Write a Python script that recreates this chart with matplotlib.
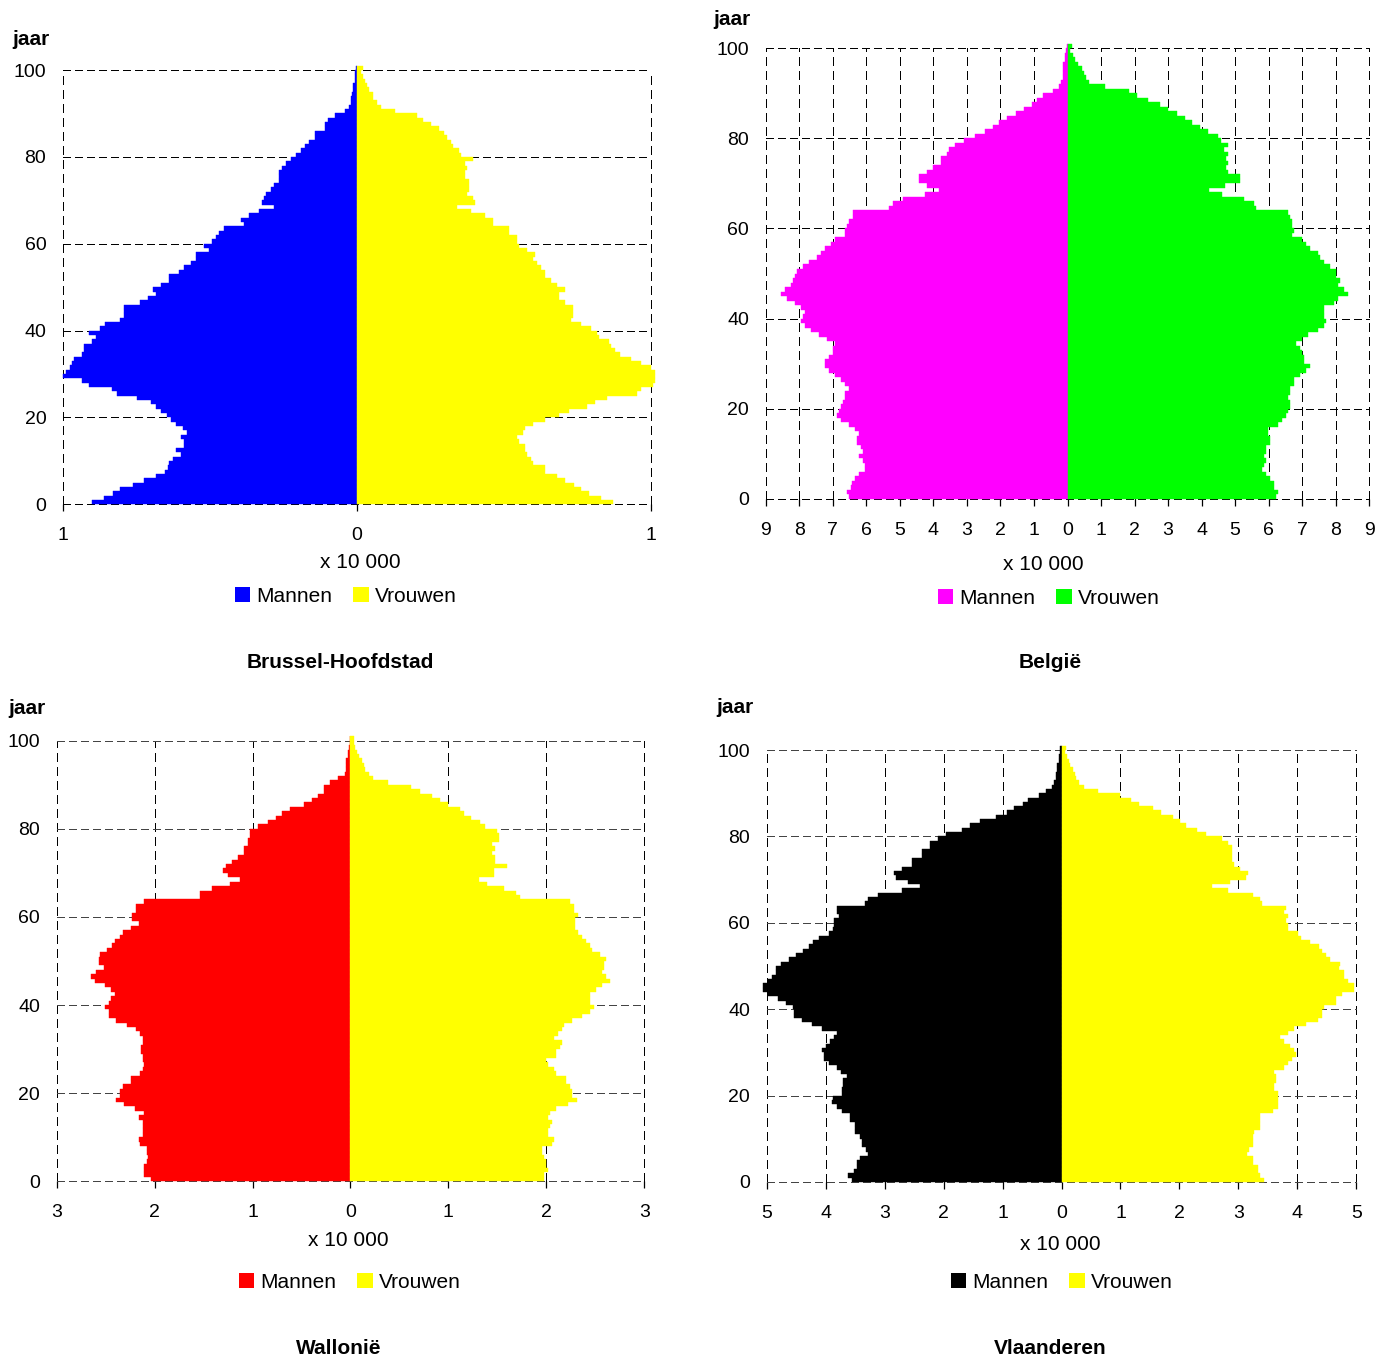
import matplotlib
matplotlib.use("Agg")
import matplotlib.pyplot as plt
from matplotlib.patches import Patch
from matplotlib.ticker import FuncFormatter
import numpy as np

plt.rcParams['font.family'] = ['Liberation Sans', 'DejaVu Sans']

ages = list(range(101))

bru_m = [0.903,0.861,0.830,0.806,0.762,0.725,0.685,0.653,0.643,0.640,
         0.626,0.600,0.614,0.589,0.587,0.599,0.578,0.591,0.614,0.632,
         0.646,0.668,0.683,0.699,0.750,0.818,0.835,0.913,0.937,1.000,
         0.991,0.977,0.971,0.964,0.937,0.930,0.930,0.903,0.889,0.913,
         0.875,0.857,0.807,0.794,0.794,0.794,0.738,0.712,0.685,0.695,
         0.667,0.640,0.640,0.604,0.590,0.563,0.549,0.549,0.505,0.519,
         0.493,0.481,0.468,0.454,0.383,0.396,0.368,0.334,0.281,0.322,
         0.315,0.308,0.294,0.281,0.267,0.267,0.267,0.254,0.240,0.226,
         0.206,0.191,0.178,0.164,0.144,0.144,0.110,0.110,0.097,0.076,
         0.042,0.028,0.022,0.022,0.017,0.015,0.015,0.008,0.008,0.006,0.003]
bru_f = [0.871,0.830,0.789,0.762,0.737,0.709,0.680,0.641,0.641,0.600,
         0.593,0.579,0.573,0.570,0.552,0.545,0.565,0.573,0.599,0.641,
         0.686,0.720,0.782,0.808,0.850,0.952,0.966,1.007,1.012,1.012,
         1.012,1.000,0.966,0.932,0.893,0.879,0.864,0.857,0.823,0.816,
         0.796,0.763,0.728,0.735,0.735,0.735,0.706,0.688,0.688,0.706,
         0.679,0.661,0.641,0.641,0.626,0.612,0.599,0.604,0.577,0.550,
         0.544,0.544,0.517,0.517,0.463,0.463,0.436,0.388,0.340,0.401,
         0.395,0.374,0.381,0.381,0.381,0.367,0.367,0.374,0.367,0.395,
         0.354,0.347,0.327,0.320,0.306,0.295,0.278,0.253,0.226,0.205,
         0.130,0.083,0.069,0.056,0.056,0.042,0.035,0.028,0.022,0.015,0.019]

bel_m = [6.51,6.57,6.45,6.42,6.33,6.21,6.03,6.03,6.09,6.21,
         6.09,6.15,6.27,6.27,6.21,6.33,6.51,6.75,6.87,6.81,
         6.75,6.69,6.63,6.63,6.51,6.63,6.75,6.93,7.10,7.22,
         7.22,7.10,6.99,6.99,6.93,7.16,7.40,7.64,7.82,7.94,
         7.88,7.82,7.94,8.12,8.36,8.54,8.42,8.24,8.18,8.12,
         8.06,7.88,7.70,7.46,7.34,7.22,7.04,6.93,6.63,6.63,
         6.57,6.51,6.39,6.39,5.31,5.19,4.90,4.24,3.82,4.18,
         4.42,4.42,4.18,4.00,3.76,3.76,3.58,3.52,3.34,3.10,
         2.75,2.45,2.21,2.03,1.79,1.55,1.31,1.07,0.90,0.72,
         0.42,0.24,0.18,0.12,0.12,0.12,0.12,0.06,0.06,0.03,0.02]
bel_f = [6.23,6.28,6.16,6.16,6.04,5.92,5.80,5.86,5.92,5.86,
         5.92,5.92,6.04,6.04,5.98,5.98,6.28,6.40,6.52,6.58,
         6.64,6.64,6.58,6.64,6.64,6.76,6.76,6.93,7.11,7.23,
         7.05,7.05,6.99,6.93,6.82,6.99,7.17,7.47,7.65,7.71,
         7.65,7.65,7.65,7.95,8.07,8.36,8.24,8.07,8.13,8.01,
         8.01,7.83,7.65,7.53,7.47,7.23,7.11,6.99,6.70,6.76,
         6.70,6.70,6.64,6.58,5.63,5.57,5.27,4.61,4.23,4.70,
         5.15,5.15,4.79,4.73,4.79,4.73,4.79,4.67,4.79,4.58,
         4.49,4.20,3.96,3.72,3.51,3.27,3.01,2.77,2.41,2.08,
         1.82,1.13,0.65,0.54,0.50,0.42,0.30,0.21,0.15,0.08,0.12]

wal_m = [2.04,2.11,2.11,2.11,2.08,2.07,2.08,2.08,2.15,2.16,
         2.12,2.12,2.12,2.12,2.16,2.11,2.20,2.31,2.39,2.35,
         2.35,2.32,2.24,2.24,2.15,2.12,2.11,2.12,2.12,2.14,
         2.14,2.12,2.12,2.15,2.19,2.28,2.39,2.47,2.47,2.51,
         2.47,2.45,2.40,2.45,2.51,2.61,2.65,2.60,2.52,2.57,
         2.57,2.56,2.49,2.44,2.40,2.35,2.32,2.24,2.16,2.23,
         2.23,2.19,2.19,2.11,1.54,1.54,1.41,1.23,1.13,1.25,
         1.30,1.27,1.21,1.15,1.09,1.09,1.05,1.05,1.03,1.03,
         0.94,0.84,0.76,0.70,0.62,0.47,0.39,0.33,0.27,0.27,
         0.21,0.13,0.06,0.05,0.05,0.05,0.03,0.03,0.02,0.01,0.005]
wal_f = [1.98,1.98,2.02,2.00,2.00,1.98,1.96,1.96,2.06,2.08,
         2.02,2.02,2.04,2.06,2.02,2.04,2.10,2.22,2.31,2.26,
         2.26,2.24,2.20,2.20,2.10,2.08,2.02,2.00,2.10,2.10,
         2.14,2.16,2.08,2.12,2.16,2.18,2.26,2.36,2.45,2.49,
         2.45,2.45,2.45,2.51,2.57,2.65,2.61,2.57,2.59,2.59,
         2.61,2.55,2.47,2.45,2.40,2.36,2.32,2.29,2.29,2.29,
         2.32,2.28,2.28,2.24,1.73,1.69,1.57,1.39,1.31,1.47,
         1.47,1.60,1.48,1.48,1.44,1.48,1.44,1.52,1.52,1.50,
         1.37,1.32,1.23,1.16,1.12,1.00,0.91,0.83,0.71,0.62,
         0.38,0.23,0.19,0.15,0.14,0.12,0.09,0.07,0.05,0.04,0.04]

vla_m = [3.55,3.62,3.52,3.47,3.47,3.42,3.29,3.32,3.38,3.38,
         3.42,3.51,3.51,3.51,3.59,3.59,3.73,3.81,3.89,3.87,
         3.73,3.73,3.70,3.70,3.63,3.74,3.80,3.95,4.03,4.03,
         4.06,4.00,3.93,3.86,3.80,4.06,4.24,4.40,4.53,4.53,
         4.56,4.67,4.80,4.97,5.07,5.07,4.98,4.91,4.84,4.84,
         4.75,4.63,4.50,4.38,4.29,4.21,4.12,3.95,3.87,3.86,
         3.86,3.77,3.81,3.81,3.34,3.29,3.12,2.70,2.40,2.60,
         2.80,2.84,2.70,2.54,2.54,2.37,2.37,2.23,2.23,2.09,
         1.96,1.69,1.55,1.38,1.11,0.93,0.81,0.66,0.56,0.39,
         0.27,0.16,0.13,0.10,0.10,0.08,0.07,0.05,0.04,0.03,0.02]
vla_f = [3.44,3.36,3.33,3.33,3.24,3.24,3.14,3.18,3.24,3.24,
         3.24,3.27,3.37,3.37,3.37,3.37,3.58,3.67,3.67,3.67,
         3.67,3.60,3.60,3.64,3.64,3.60,3.77,3.84,3.91,3.98,
         3.94,3.88,3.77,3.71,3.84,3.94,4.15,4.35,4.41,4.41,
         4.45,4.66,4.66,4.76,4.96,4.96,4.86,4.79,4.79,4.71,
         4.72,4.55,4.49,4.42,4.36,4.21,4.06,4.01,3.84,3.84,
         3.81,3.84,3.77,3.81,3.40,3.37,3.24,2.83,2.56,2.86,
         3.13,3.16,3.03,2.93,2.89,2.89,2.89,2.89,2.82,2.72,
         2.45,2.29,2.12,2.01,1.89,1.68,1.55,1.31,1.18,0.99,
         0.62,0.38,0.29,0.25,0.23,0.19,0.15,0.12,0.09,0.06,0.07]

titles = ["Brussel-Hoofdstad", "België", "Wallonië", "Vlaanderen"]
legend_labels = ["Mannen", "Vrouwen"]
y_label = "jaar"
x_label = "x 10 000"

W, H = 1392, 1361
fig = plt.figure(figsize=(W / 100, H / 100), dpi=100)


def fx(x):
    return x / W


def fy(y):
    return 1 - y / H


panels = [
    dict(m=bru_m, f=bru_f, cm='#0000FF', cf='#FFFF00', lim=1,
         box=(63, 651, 65.7, 504.3), hgrid='black',
         jaar=(12, 45), xl=(360, 562), leg=(346, 596), title=(340, 663)),
    dict(m=bel_m, f=bel_f, cm='#FF00FF', cf='#00FF00', lim=9,
         box=(765.7, 1369.3, 43.8, 498.7), hgrid='black',
         jaar=(713, 25), xl=(1043, 565), leg=(1049, 598), title=(1050, 663)),
    dict(m=wal_m, f=wal_f, cm='#FF0000', cf='#FFFF00', lim=3,
         box=(56.7, 644.3, 736.3, 1181.3), hgrid='#444444',
         jaar=(8, 714), xl=(348, 1241), leg=(350, 1282), title=(339, 1349)),
    dict(m=vla_m, f=vla_f, cm='#000000', cf='#FFFF00', lim=5,
         box=(766.7, 1356.3, 745.7, 1182), hgrid='#444444',
         jaar=(716, 713), xl=(1060, 1244), leg=(1062, 1282), title=(1050, 1349)),
]

vdash = (0, (8, 5))
hdash = (0, (7, 4))

for p, title in zip(panels, titles):
    x0, x1, yt, yb = p['box']
    ax = fig.add_axes([fx(x0), fy(yb), (x1 - x0) / W, (yb - yt) / H])
    ax.set_axisbelow(True)
    men = np.array(p['m'])
    women = np.array(p['f'])
    ax.barh(ages, -men, height=1, align='edge', color=p['cm'],
            edgecolor=p['cm'], linewidth=0.3, clip_on=False, zorder=3)
    ax.barh(ages, women, height=1, align='edge', color=p['cf'],
            edgecolor=p['cf'], linewidth=0.3, clip_on=False, zorder=3)
    lim = p['lim']
    ax.set_xlim(-lim, lim)
    ax.set_ylim(0, 101)
    ax.set_xticks(np.arange(-lim, lim + 1, 1))
    ax.set_yticks(np.arange(0, 101, 20))
    ax.xaxis.set_major_formatter(FuncFormatter(lambda v, pos: f"{abs(v):g}"))
    for v in np.arange(-lim, lim + 1, 1):
        ax.axvline(v, ymax=100 / 101, color='black', linewidth=0.75,
                   linestyle=vdash, zorder=1, clip_on=False,
                   antialiased=False)
    for a in range(0, 101, 20):
        ax.axhline(a, color=p['hgrid'], linewidth=0.75, linestyle=hdash,
                   zorder=1, clip_on=False, antialiased=False)
    for s in ax.spines.values():
        s.set_visible(False)
    ax.tick_params(axis='x', direction='out', length=5, width=0.9,
                   pad=11.5, labelsize=14, colors='black')
    ax.tick_params(axis='y', length=0, pad=12, labelsize=14)
    fig.text(fx(p['jaar'][0]), fy(p['jaar'][1]), y_label, fontsize=15,
             fontweight='bold', ha='left', va='baseline')
    fig.text(fx(p['xl'][0]), fy(p['xl'][1]), x_label, fontsize=15,
             ha='center', va='center')
    handles = [Patch(facecolor=p['cm'], edgecolor='none'),
               Patch(facecolor=p['cf'], edgecolor='none')]
    fig.legend(handles, legend_labels, loc='center',
               bbox_to_anchor=(fx(p['leg'][0]), fy(p['leg'][1])),
               ncol=2, frameon=False, fontsize=15, handlelength=0.75,
               handleheight=0.75, handletextpad=0.3, columnspacing=1.0,
               borderpad=0, borderaxespad=0)
    fig.text(fx(p['title'][0]), fy(p['title'][1]), title, fontsize=15,
             fontweight='bold', ha='center', va='center')

fig.savefig("out.png", dpi=100, facecolor='white')
